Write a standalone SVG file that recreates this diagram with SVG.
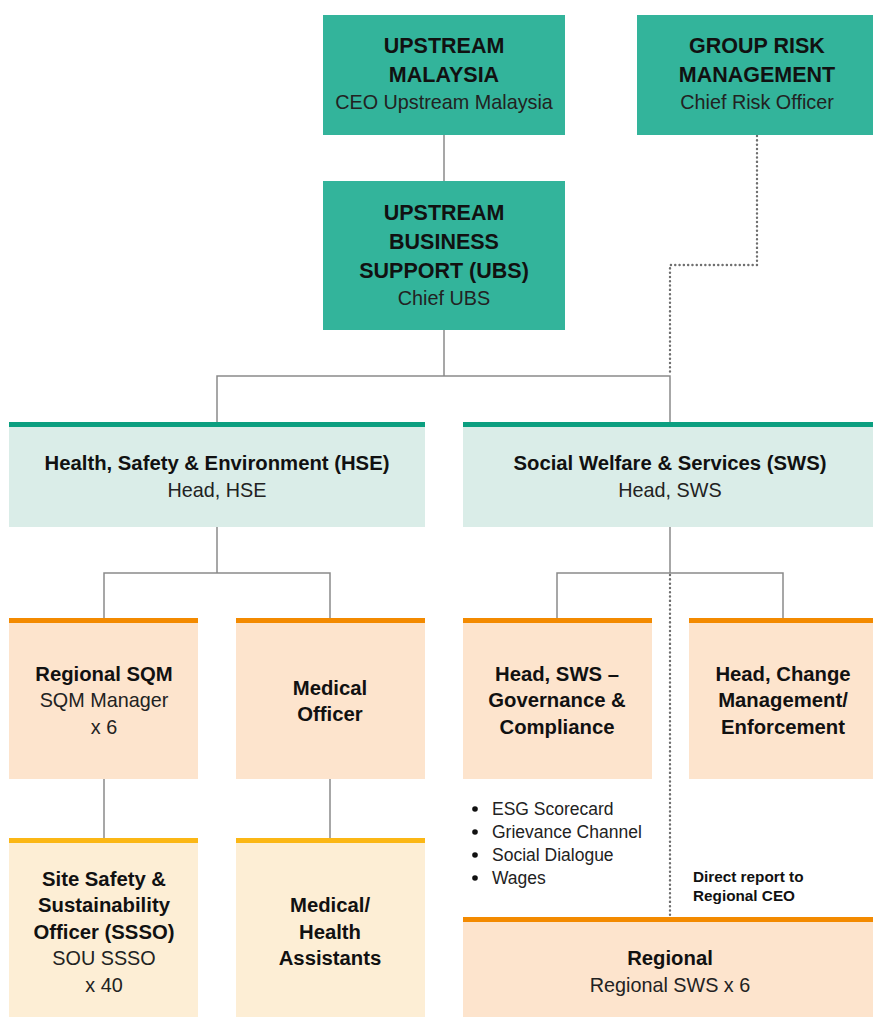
<svg xmlns="http://www.w3.org/2000/svg" width="873" height="1017" viewBox="0 0 873 1017">
<style>
text{font-family:"Liberation Sans",Arial,sans-serif;fill:#111;text-anchor:middle}
.t{font-size:21.5px;font-weight:bold}
.s{font-size:19.8px;fill:#222}
.b{font-size:20.3px;font-weight:bold}
.l{font-size:17.5px;text-anchor:start;fill:#222}
.d{font-size:15.3px;font-weight:bold;text-anchor:start}
.top{fill:#33b49b}
.mid{fill:#daede8}
.midbar{fill:#0b9f80}
.org{fill:#fde4cd}
.orgbar{fill:#f38a00}
.yel{fill:#fdeed5}
.yelbar{fill:#fbb715}
.c{fill:none;stroke:#8a8a8a;stroke-width:1.5}
.dot{fill:none;stroke:#6f6f6f;stroke-width:2.4;stroke-dasharray:0.1 4.2;stroke-linecap:round}
</style>
<g id="connectors">
<path class="c" d="M444 135V181M444 330V376M217 422V376H670V422M217 527V573M104 618V573H330V618M670 527V573M557 618V573H783V618M104 779V838M330 779V838"/>
<path class="dot" d="M757 136V265H670V372M670 575V916"/>
</g>
<g id="upstream-malaysia">
<rect class="top" x="323" y="15" width="242" height="120"/>
<text class="t" x="444" y="53">UPSTREAM</text>
<text class="t" x="444" y="82">MALAYSIA</text>
<text class="s" x="444" y="109">CEO Upstream Malaysia</text>
</g>
<g id="group-risk">
<rect class="top" x="637" y="15" width="236" height="120"/>
<text class="t" x="757" y="53">GROUP RISK</text>
<text class="t" x="757" y="82">MANAGEMENT</text>
<text class="s" x="757" y="109">Chief Risk Officer</text>
</g>
<g id="ubs">
<rect class="top" x="323" y="181" width="242" height="149"/>
<text class="t" x="444" y="220">UPSTREAM</text>
<text class="t" x="444" y="249">BUSINESS</text>
<text class="t" x="444" y="278">SUPPORT (UBS)</text>
<text class="s" x="444" y="305">Chief UBS</text>
</g>
<g id="hse">
<rect class="mid" x="9" y="422" width="416" height="105"/>
<rect class="midbar" x="9" y="422" width="416" height="5"/>
<text class="b" x="217" y="470">Health, Safety &amp; Environment (HSE)</text>
<text class="s" x="217" y="497">Head, HSE</text>
</g>
<g id="sws">
<rect class="mid" x="463" y="422" width="410" height="105"/>
<rect class="midbar" x="463" y="422" width="410" height="5"/>
<text class="b" x="670" y="470">Social Welfare &amp; Services (SWS)</text>
<text class="s" x="670" y="497">Head, SWS</text>
</g>
<g id="regional-sqm">
<rect class="org" x="9" y="618" width="189" height="161"/>
<rect class="orgbar" x="9" y="618" width="189" height="5"/>
<text class="b" x="104" y="681">Regional SQM</text>
<text class="s" x="104" y="707">SQM Manager</text>
<text class="s" x="104" y="734">x 6</text>
</g>
<g id="medical-officer">
<rect class="org" x="236" y="618" width="189" height="161"/>
<rect class="orgbar" x="236" y="618" width="189" height="5"/>
<text class="b" x="330" y="695">Medical</text>
<text class="b" x="330" y="721">Officer</text>
</g>
<g id="head-sws-gc">
<rect class="org" x="463" y="618" width="189" height="161"/>
<rect class="orgbar" x="463" y="618" width="189" height="5"/>
<text class="b" x="557" y="681">Head, SWS –</text>
<text class="b" x="557" y="707">Governance &amp;</text>
<text class="b" x="557" y="734">Compliance</text>
</g>
<g id="head-change">
<rect class="org" x="689" y="618" width="184" height="161"/>
<rect class="orgbar" x="689" y="618" width="184" height="5"/>
<text class="b" x="783" y="681">Head, Change</text>
<text class="b" x="783" y="707">Management/</text>
<text class="b" x="783" y="734">Enforcement</text>
</g>
<g id="bullets">
<circle cx="475" cy="809" r="2.8" fill="#111"/>
<circle cx="475" cy="832" r="2.8" fill="#111"/>
<circle cx="475" cy="855" r="2.8" fill="#111"/>
<circle cx="475" cy="878" r="2.8" fill="#111"/>
<text class="l" x="492" y="815">ESG Scorecard</text>
<text class="l" x="492" y="838">Grievance Channel</text>
<text class="l" x="492" y="861">Social Dialogue</text>
<text class="l" x="492" y="884">Wages</text>
</g>
<g id="direct-report">
<text class="d" x="693" y="882">Direct report to</text>
<text class="d" x="693" y="901">Regional CEO</text>
</g>
<g id="ssso">
<rect class="yel" x="9" y="838" width="189" height="179"/>
<rect class="yelbar" x="9" y="838" width="189" height="5"/>
<text class="b" x="104" y="886">Site Safety &amp;</text>
<text class="b" x="104" y="912">Sustainability</text>
<text class="b" x="104" y="939">Officer (SSSO)</text>
<text class="s" x="104" y="965">SOU SSSO</text>
<text class="s" x="104" y="992">x 40</text>
</g>
<g id="medical-health">
<rect class="yel" x="236" y="838" width="189" height="179"/>
<rect class="yelbar" x="236" y="838" width="189" height="5"/>
<text class="b" x="330" y="912">Medical/</text>
<text class="b" x="330" y="939">Health</text>
<text class="b" x="330" y="965">Assistants</text>
</g>
<g id="regional">
<rect class="org" x="463" y="917" width="410" height="100"/>
<rect class="orgbar" x="463" y="917" width="410" height="5"/>
<text class="b" x="670" y="965">Regional</text>
<text class="s" x="670" y="992">Regional SWS x 6</text>
</g>
</svg>
